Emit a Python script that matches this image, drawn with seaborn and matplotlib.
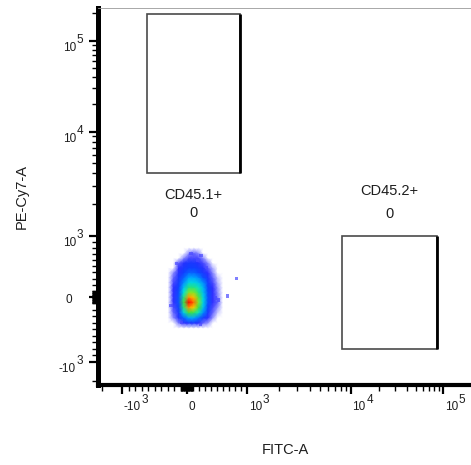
import numpy as np
import pandas as pd
import matplotlib
matplotlib.use("Agg")
import matplotlib.pyplot as plt
from matplotlib.colors import LinearSegmentedColormap
from matplotlib.patches import Rectangle
import seaborn as sns

# ---------------------------------------------------------------- axes
x_label = "FITC-A"
y_label = "PE-Cy7-A"
major_ticks = [-1e3, 0.0, 1e3, 1e4, 1e5]
major_bases = ["-10", "0", "10", "10", "10"]
major_exps = ["3", "", "3", "4", "5"]

# Biexponential display: screen units given to each break point
# (-10^3, 0, 10^3, 10^4, 10^5) and the full length of each axis.
fitc_break_units = [24.5, 89.5, 149.8, 253.5, 345.8]
fitc_axis_units = 373.5
pecy7_break_units = [23.3, 88.0, 149.3, 253.3, 344.3]
pecy7_axis_units = 377.0

# ---------------------------------------------------------------- events
# Relative event density of the single population, on a grid of
# FITC-A (columns) x PE-Cy7-A (rows, listed from low to high).
fitc_centers = [-290, -210, -130, -50, 30, 110, 190, 270, 350, 430, 510, 590]
pecy7_centers = [-480, -400, -320, -240, -160, -80, 0, 80, 160, 240,
                 320, 400, 480, 560, 640, 720, 800]
density = [
    [0, 0.00, 0.00, 0.00, 0.00, 0.00, 0.00, 0.00, 0.00, 0.00, 0.00, 0],
    [0, 0.00, 0.06, 0.12, 0.18, 0.18, 0.14, 0.08, 0.04, 0.00, 0.00, 0],
    [0, 0.05, 0.15, 0.30, 0.38, 0.38, 0.32, 0.22, 0.12, 0.04, 0.00, 0],
    [0, 0.08, 0.20, 0.45, 0.60, 0.58, 0.50, 0.35, 0.20, 0.08, 0.02, 0],
    [0, 0.10, 0.25, 0.55, 0.85, 0.78, 0.60, 0.42, 0.25, 0.10, 0.04, 0],
    [0, 0.12, 0.28, 0.60, 1.00, 0.90, 0.65, 0.45, 0.28, 0.12, 0.08, 0],
    [0, 0.12, 0.28, 0.55, 0.85, 0.80, 0.62, 0.45, 0.28, 0.12, 0.06, 0],
    [0, 0.12, 0.27, 0.48, 0.65, 0.65, 0.55, 0.42, 0.27, 0.12, 0.05, 0],
    [0, 0.12, 0.25, 0.42, 0.55, 0.55, 0.50, 0.40, 0.25, 0.12, 0.04, 0],
    [0, 0.10, 0.22, 0.35, 0.45, 0.45, 0.42, 0.35, 0.22, 0.10, 0.03, 0],
    [0, 0.08, 0.20, 0.30, 0.38, 0.38, 0.35, 0.28, 0.18, 0.08, 0.02, 0],
    [0, 0.05, 0.15, 0.25, 0.30, 0.30, 0.27, 0.20, 0.12, 0.05, 0.00, 0],
    [0, 0.00, 0.12, 0.20, 0.25, 0.25, 0.22, 0.15, 0.08, 0.03, 0.00, 0],
    [0, 0.00, 0.08, 0.15, 0.20, 0.20, 0.15, 0.10, 0.05, 0.00, 0.00, 0],
    [0, 0.00, 0.00, 0.05, 0.10, 0.10, 0.10, 0.05, 0.00, 0.00, 0.00, 0],
    [0, 0.00, 0.00, 0.00, 0.05, 0.08, 0.05, 0.00, 0.00, 0.00, 0.00, 0],
    [0, 0.00, 0.00, 0.00, 0.00, 0.00, 0.00, 0.00, 0.00, 0.00, 0.00, 0],
]
# Isolated events around the population
sparse_fitc = [67, 233, 178, -158, 328, 467, 517, -82, 217, -246, 817, 667]
sparse_pecy7 = [705, 684, 595, 541, 475, -15, -46, -396, -431, -137, 295, 16]

# ---------------------------------------------------------------- gates
gate_names = ["CD45.1+", "CD45.2+"]
gate_counts = [0, 0]
gate_fitc_lo = [-610, 8200]
gate_fitc_hi = [880, 85500]
gate_pecy7_lo = [4000, -800]
gate_pecy7_hi = [196000, 1000]


def biex_functions(break_units):
    """Forward / inverse maps for a display that is linear within +-10^3
    and logarithmic per decade outside it."""
    h_knots = np.array([-1.0, 0.0, 1.0, 2.0, 3.0])
    u_knots = np.asarray(break_units, float)

    def to_h(v):
        v = np.asarray(v, float)
        a = np.abs(v)
        return np.where(a <= 1e3, v / 1e3,
                        np.sign(v) * (1.0 + np.log10(np.maximum(a, 1e3) / 1e3)))

    def from_h(h):
        h = np.asarray(h, float)
        a = np.abs(h)
        return np.where(a <= 1.0, h * 1e3,
                        np.sign(h) * 1e3 * 10.0 ** (np.clip(a, 1.0, 12.0) - 1.0))

    def piecewise(x, xs, ys):
        x = np.asarray(x, float)
        y = np.interp(x, xs, ys)
        lo_slope = (ys[1] - ys[0]) / (xs[1] - xs[0])
        hi_slope = (ys[-1] - ys[-2]) / (xs[-1] - xs[-2])
        y = np.where(x < xs[0], ys[0] + (x - xs[0]) * lo_slope, y)
        y = np.where(x > xs[-1], ys[-1] + (x - xs[-1]) * hi_slope, y)
        return y

    def forward(v):
        return piecewise(to_h(v), h_knots, u_knots)

    def inverse(u):
        return from_h(piecewise(u, u_knots, h_knots))

    return forward, inverse


sns.set_theme(style="white")
plt.rcParams["font.family"] = ["Liberation Sans", "DejaVu Sans"]
text_color = "#1e1e1e"

fig = plt.figure(figsize=(4.71, 4.65), dpi=100)
ax = fig.add_axes([97.5 / 471, 80 / 465, 373.5 / 471, 377 / 465])

fx, ix = biex_functions(fitc_break_units)
fy, iy = biex_functions(pecy7_break_units)
ax.set_xscale("function", functions=(fx, ix))
ax.set_yscale("function", functions=(fy, iy))

# population density, jet-like colouring fading to white
dens_cmap = LinearSegmentedColormap.from_list(
    "flow_density",
    [(0.00, (1.0, 1.0, 1.0)),
     (0.04, (0.60, 0.60, 1.0)),
     (0.12, (0.18, 0.18, 1.0)),
     (0.26, (0.05, 0.25, 1.0)),
     (0.38, (0.0, 0.65, 1.0)),
     (0.48, (0.0, 0.90, 0.85)),
     (0.60, (0.25, 0.88, 0.25)),
     (0.74, (0.95, 0.95, 0.0)),
     (0.88, (1.0, 0.50, 0.0)),
     (1.00, (1.0, 0.0, 0.0))])
gx, gy = np.meshgrid(fitc_centers, pecy7_centers)
ax.pcolormesh(gx, gy, np.array(density), cmap=dens_cmap, vmin=0, vmax=1,
              shading="gouraud", zorder=2)

events = pd.DataFrame({x_label: sparse_fitc, y_label: sparse_pecy7})
sns.scatterplot(data=events, x=x_label, y=y_label, ax=ax, marker="s", s=5,
                color="#4a4aff", edgecolor="none", alpha=0.7, zorder=3)

# gates
for i, name in enumerate(gate_names):
    x0, x1 = gate_fitc_lo[i], gate_fitc_hi[i]
    y0, y1 = gate_pecy7_lo[i], gate_pecy7_hi[i]
    ax.add_patch(Rectangle((x0, y0), x1 - x0, y1 - y0, fill=False,
                           edgecolor="#4a4a4a", linewidth=1.2, zorder=4))
    ax.plot([x1, x1], [y0, y1], color="black", linewidth=2.0, zorder=4,
            solid_capstyle="butt")
    xc = float(ix((fx(x0) + fx(x1)) / 2.0))
    if i == 0:
        anchor_y, name_off, count_off = y0, -15.8, -28.8
    else:
        anchor_y, name_off, count_off = y1, 32.4, 15.8
    ax.annotate(name, xy=(xc, anchor_y), xytext=(0, name_off),
                textcoords="offset points", ha="center", va="center",
                fontsize=10.5, color=text_color)
    ax.annotate(str(gate_counts[i]), xy=(xc, anchor_y), xytext=(0, count_off),
                textcoords="offset points", ha="center", va="center",
                fontsize=10.5, color=text_color)

# limits
ax.set_xlim(float(ix(0.0)), float(ix(fitc_axis_units)))
ax.set_ylim(float(iy(0.0)), float(iy(pecy7_axis_units)))

# ticks: linear steps near zero, per-decade steps beyond 10^3
near_zero = [s * k for s in (-1, 1) for k in range(10, 100, 10)]
linear_minor = [s * k for s in (-1, 1) for k in range(100, 1000, 100)]
decade_minor = [k * 10 ** e for e in (3, 4, 5) for k in range(2, 10)] + [-2e3]
minor_ticks = near_zero + linear_minor + decade_minor


def inside(vals, lim):
    lo, hi = min(lim), max(lim)
    return [v for v in vals if lo <= v <= hi]


ax.set_xticks(major_ticks)
ax.set_yticks(major_ticks)
ax.set_xticks(inside(minor_ticks, ax.get_xlim()), minor=True)
ax.set_yticks(inside(minor_ticks, ax.get_ylim()), minor=True)
ax.set_xticklabels([])
ax.set_yticklabels([])
ax.tick_params(which="major", direction="out", length=6.5, width=1.6,
               color="black", bottom=True, left=True)
ax.tick_params(which="minor", direction="out", length=4.0, width=1.0,
               color="black", bottom=True, left=True)
ax.grid(False)

# decade labels written as base + raised exponent
lab_kw = dict(fontsize=8.5, color=text_color, textcoords="offset points")
for v, b, e in zip(major_ticks, major_bases, major_exps):
    base = ax.annotate(b, xy=(v, 0), xycoords=("data", "axes fraction"),
                       xytext=(1.0, -11.6), ha="left", va="top", **lab_kw)
    if e:
        ax.annotate(e, xy=(1, 1), xycoords=base, xytext=(0.4, 1.0),
                    ha="left", va="center", **lab_kw)
    if e:
        base_y = ax.annotate(b, xy=(0, v), xycoords=("axes fraction", "data"),
                             xytext=(-15.6, -7.3), ha="right", va="baseline",
                             **lab_kw)
        ax.annotate(e, xy=(1, 1), xycoords=base_y, xytext=(0.4, 1.5),
                    ha="left", va="center", **lab_kw)
    else:
        ax.annotate(b, xy=(0, v), xycoords=("axes fraction", "data"),
                    xytext=(-18.4, -4.3), ha="right", va="baseline", **lab_kw)

# spines
for side in ("left", "bottom"):
    ax.spines[side].set_visible(True)
    ax.spines[side].set_color("black")
ax.spines["left"].set_linewidth(3.6)
ax.spines["bottom"].set_linewidth(3.0)
ax.spines["top"].set_visible(True)
ax.spines["top"].set_linewidth(0.6)
ax.spines["top"].set_color("#9a9a9a")
ax.spines["right"].set_visible(False)

ax.set_xlabel(x_label, fontsize=10.5, color=text_color)
ax.set_ylabel(y_label, fontsize=10.5, color=text_color)
ax.xaxis.set_label_coords(0.503, -0.172)
ax.yaxis.set_label_coords(-0.202, 0.5)
ax.xaxis.label.set_va("center")
ax.yaxis.label.set_va("center")

fig.savefig("out.png", dpi=100)
